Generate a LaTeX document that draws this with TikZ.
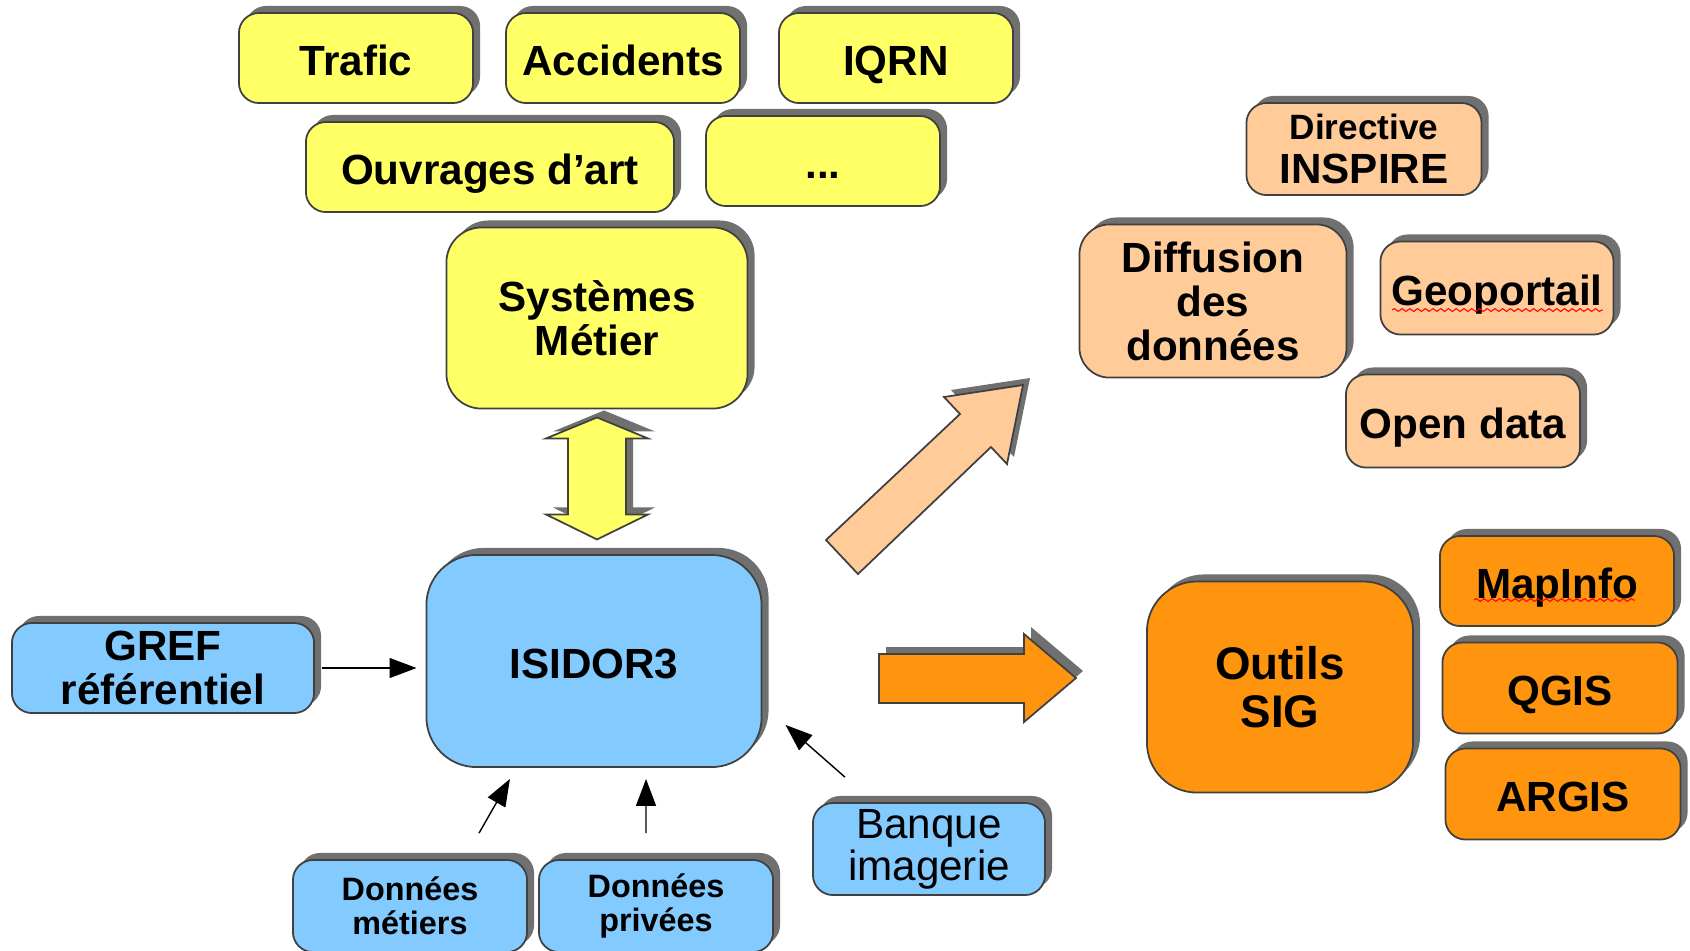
\documentclass[tikz,border=0pt]{standalone}
\usepackage{fontspec}
\setmainfont{Liberation Sans}
\usetikzlibrary{shadows,arrows.meta,decorations.pathmorphing}
\definecolor{jaune}{RGB}{255,255,102}
\definecolor{bleu}{RGB}{131,202,255}
\definecolor{saumon}{RGB}{255,204,153}
\definecolor{orangesig}{RGB}{255,149,14}
\definecolor{ombre}{RGB}{112,112,112}

\begin{document}
\begin{tikzpicture}[x=0.01cm,y=-0.01cm,
	cell/.style={rectangle,draw=black!75,line width=0.5pt,rounded corners=0.2cm,align=center,inner sep=0pt,font=\fontsize{12}{12.5}\selectfont\bfseries,drop shadow={shadow xshift=0.07cm,shadow yshift=0.07cm,fill=ombre,opacity=1}},
	mot/.style={text height=9.8pt,text depth=0pt},
	metier/.style={cell,fill=jaune,minimum width=2.34cm,minimum height=0.9cm},
	source/.style={cell,fill=bleu,minimum width=2.34cm,minimum height=0.91cm},
	diffusion/.style={cell,fill=saumon,minimum width=2.34cm,minimum height=0.93cm},
	outil/.style={cell,fill=orangesig,minimum width=2.35cm,minimum height=0.91cm},
	link/.style={-{Triangle[length=0.27cm,width=0.2cm]},line width=0.4pt},
	fleche/.style={draw=black!75,line width=0.5pt,drop shadow={shadow xshift=0.07cm,shadow yshift=0.07cm,fill=ombre,opacity=1}},
	spell/.style={red,line width=0.3pt,decorate,decoration={snake,amplitude=0.4pt,segment length=2.2pt}}]
	
	\useasboundingbox (0,0) rectangle (1690,950);
	
	\node[metier,mot] (trafic) at (356,58) {Trafic};
	\node[metier,mot] (accidents) at (623,58) {Accidents};
	\node[metier,mot] (iqrn) at (896,58) {IQRN};
	\node[metier,mot,minimum width=3.68cm] (ouvrages) at (490,167) {Ouvrages d’art};
	\node[metier,mot] (autres) at (823,161) {...};
	\node[metier,minimum width=3.01cm,minimum height=1.81cm,rounded corners=0.35cm] (systemes) at (597,318) {Systèmes\\Métier};
	
	\node[source,mot,minimum width=3.35cm,minimum height=2.12cm,rounded corners=0.5cm] (isidor) at (594,661) {ISIDOR3};
	\node[source,minimum width=3.02cm,minimum height=0.9cm] (gref) at (163,668) {GREF\\référentiel};
	\node[source,minimum height=0.92cm,font=\fontsize{9.2}{9.6}\selectfont\bfseries] (dm) at (410,906) {Données\\métiers};
	\node[source,minimum height=0.92cm,font=\fontsize{9.2}{9.6}\selectfont\bfseries] (dp) at (656,906) {Données\\privées};
	\node[source,minimum width=2.32cm,minimum height=0.92cm,font=\fontsize{12}{12}\selectfont\mdseries] (bi) at (929,849) {Banque\\imagerie};
	
	\node[diffusion,minimum width=2.35cm,minimum height=0.92cm] (inspire) at (1364,149) {{\fontsize{10}{10}\selectfont Directive}\\INSPIRE};
	\node[diffusion,minimum width=2.67cm,minimum height=1.53cm,rounded corners=0.3cm] (donnees) at (1213,301) {Diffusion\\des\\données};
	\node[diffusion,mot,minimum width=2.33cm] (geoportail) at (1497,288) {Geoportail};
	\node[diffusion,mot] (opendata) at (1463,421) {Open data};
	
	\node[outil,minimum width=2.66cm,minimum height=2.11cm,rounded corners=0.5cm,font=\fontsize{13}{13.6}\selectfont\bfseries] (outils) at (1280,687) {Outils\\SIG};
	\node[outil,mot,minimum width=2.34cm,minimum height=0.9cm] (mapinfo) at (1557,581) {MapInfo};
	\node[outil,mot] (qgis) at (1560,688) {QGIS};
	\node[outil,mot] (argis) at (1563,794) {ARGIS};
	
	\draw[spell] ([xshift=-1.05cm,yshift=-0.22cm]geoportail.center) -- ++(211,0);
	\draw[spell] ([xshift=-0.83cm,yshift=-0.19cm]mapinfo.center) -- ++(161,0);
	
	\draw[fleche,fill=jaune] ([yshift=-0.08cm]systemes.south) -- ++(51,21) -- ++(-22,0) -- ++(0,76) -- ++(22,0) -- ++(-51,25) -- ++(-51,-25) -- ++(22,0) -- ++(0,-76) -- ++(-22,0) -- cycle;
	\draw[fleche,fill=saumon] (826,540) -- (960,414) -- (944,397) -- (1023,385) -- (1007,464) -- (991,447) -- (858,574) -- cycle;
	\draw[fleche,fill=orangesig] (879,654) -- (1024,654) -- (1024,634) -- (1076,678) -- (1024,722) -- (1024,703) -- (879,703) -- cycle;
	
	\draw[link] ([xshift=0.07cm]gref.east) -- ([xshift=-0.09cm]gref.east -| isidor.west);
	\draw[link] ([xshift=0.69cm,yshift=0.26cm]dm.north) -- ([xshift=-0.84cm,yshift=-0.11cm]isidor.south);
	\draw[link] ([xshift=-0.1cm,yshift=0.26cm]dp.north) -- ([xshift=0.52cm,yshift=-0.11cm]isidor.south);
	\draw[link] ([xshift=-0.84cm,yshift=0.25cm]bi.north) -- ([xshift=0.23cm,yshift=0.43cm]isidor.south east);
	
\end{tikzpicture}
\end{document}
